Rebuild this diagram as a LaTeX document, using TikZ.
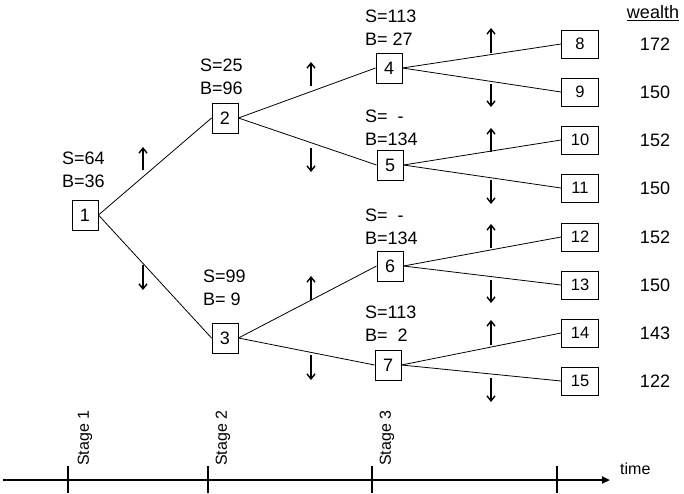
\documentclass[tikz,border=0pt]{standalone}
\usepackage{fontspec}
\setmainfont{Liberation Sans}
\usetikzlibrary{arrows.meta}
\begin{document}
\begin{tikzpicture}[x=1pt, y=-1pt,
    state/.style={draw, line width=0.9pt, minimum width=26pt, minimum height=30pt, inner sep=0pt, font=\fontsize{18}{20}\selectfont},
    leaf/.style={draw, line width=0.9pt, minimum width=37pt, minimum height=28pt, inner sep=0pt, font=\fontsize{16.5}{18}\selectfont},
    info/.style={align=left, anchor=west, inner sep=0pt, font=\fontsize{18}{23}\selectfont},
    value/.style={inner sep=0pt, font=\fontsize{18}{20}\selectfont},
    branch/.style={line width=0.8pt},
    move/.style={-{Straight Barb[length=5pt, width=8pt, line width=1.4pt]}, line width=1.4pt},
    stage/.style={rotate=90, anchor=west, inner sep=0pt, font=\fontsize{16}{18}\selectfont}]
    \useasboundingbox (0,0) rectangle (684,493);

    % Decision nodes
    \node[state] (n1) at (85,215) {1};
    \node[state] (n2) at (225,118) {2};
    \node[state] (n3) at (225,338) {3};
    \node[state] (n4) at (389,68) {4};
    \node[state] (n5) at (390,165) {5};
    \node[state] (n6) at (390,266) {6};
    \node[state] (n7) at (388,365) {7};

    % Final nodes
    \node[leaf] (n8) at (580,44) {8};
    \node[leaf] (n9) at (580,92) {9};
    \node[leaf] (n10) at (580,140) {10};
    \node[leaf] (n11) at (580,188) {11};
    \node[leaf] (n12) at (580,237) {12};
    \node[leaf] (n13) at (580,285) {13};
    \node[leaf] (n14) at (580,333) {14};
    \node[leaf] (n15) at (580,381) {15};

    % Holdings
    \node[info] (h1) at (62,170) {S=64\\B=36};
    \node[info] (h2) at (200,77) {S=25\\B=96};
    \node[info] (h3) at (203,288) {S=99\\B=\ 9};
    \node[info] (h4) at (365,27.5) {S=113\\B=\ 27};
    \node[info] (h5) at (365,128) {S=\ \ -\\B=134};
    \node[info] (h6) at (365,226.5) {S=\ \ -\\B=134};
    \node[info] (h7) at (365,324) {S=113\\B=\ \ 2};

    % Branches
    \draw[branch] (n1.east) -- (n2.west);
    \draw[branch] (n1.east) -- (n3.west);
    \draw[branch] (n2.east) -- (n4.west);
    \draw[branch] (n2.east) -- (n5.west);
    \draw[branch] (n3.east) -- (n6.west);
    \draw[branch] (n3.east) -- (n7.west);
    \draw[branch] (n4.east) -- (n8.west);
    \draw[branch] (n4.east) -- (n9.west);
    \draw[branch] (n5.east) -- (n10.west);
    \draw[branch] (n5.east) -- (n11.west);
    \draw[branch] (n6.east) -- (n12.west);
    \draw[branch] (n6.east) -- (n13.west);
    \draw[branch] (n7.east) -- (n14.west);
    \draw[branch] (n7.east) -- (n15.west);

    % Up and down moves
    \draw[move] (143,170) -- (143,147);
    \draw[move] (143,265) -- (143,290);
    \draw[move] (311,86) -- (311,62);
    \draw[move] (311,148) -- (311,172);
    \draw[move] (311,300) -- (311,276);
    \draw[move] (311,355) -- (311,380);
    \draw[move] (491,53) -- (491,28);
    \draw[move] (491,84) -- (491,107);
    \draw[move] (491,152) -- (491,128);
    \draw[move] (491,180) -- (491,204);
    \draw[move] (491,248) -- (491,224);
    \draw[move] (491,280) -- (491,303);
    \draw[move] (491,345) -- (491,320);
    \draw[move] (491,378) -- (491,402);

    % Wealth
    \node[value] (w0) at (653,13) {\underline{wealth}};
    \node[value] (w8) at (655,44) {172};
    \node[value] (w9) at (655,92) {150};
    \node[value] (w10) at (655,140) {152};
    \node[value] (w11) at (655,188) {150};
    \node[value] (w12) at (655,237) {152};
    \node[value] (w13) at (655,285) {150};
    \node[value] (w14) at (655,333) {143};
    \node[value] (w15) at (655,381) {122};

    % Time axis
    \coordinate (t0) at (3,480);
    \coordinate (tend) at (610,480);
    \draw[line width=2.5pt, -{Triangle[length=8pt, width=7pt]}] (t0) -- (tend);
    \node[inner sep=0pt, anchor=west, font=\fontsize{16}{18}\selectfont] (time) at (620,469) {time};
    \draw[line width=2pt] (68,466) -- (68,493);
    \draw[line width=2pt] (208,466) -- (208,493);
    \draw[line width=2pt] (372,466) -- (372,493);
    \draw[line width=2pt] (557,466) -- (557,493);
    \node[stage] (s1) at (85,466) {Stage 1};
    \node[stage] (s2) at (223,466) {Stage 2};
    \node[stage] (s3) at (387,466) {Stage 3};
\end{tikzpicture}
\end{document}
